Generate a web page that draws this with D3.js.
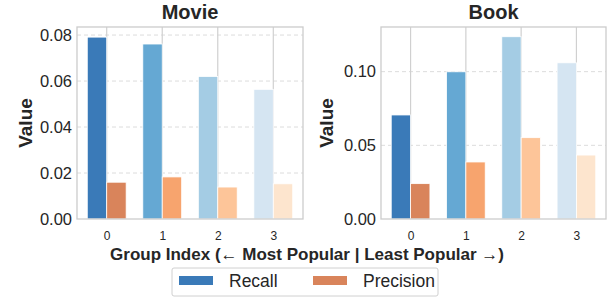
<!DOCTYPE html>
<html>
<head>
<meta charset="utf-8">
<script src="https://cdn.jsdelivr.net/npm/d3@7"></script>
<style>
  body { margin: 0; background: #fff; }
  svg { display: block; font-family: "Liberation Sans", Arial, sans-serif; }
</style>
</head>
<body>
<div id="chart"></div>
<script>
const groups = [0, 1, 2, 3];
const movieRecall = [0.0791, 0.0761, 0.0620, 0.0564];
const moviePrecision = [0.0160, 0.0183, 0.0139, 0.0153];
const bookRecall = [0.0706, 0.0999, 0.1237, 0.1060];
const bookPrecision = [0.0240, 0.0387, 0.0552, 0.0434];
const movieTicks = [0, 0.02, 0.04, 0.06, 0.08];
const bookTicks = [0, 0.05, 0.10];
const seriesNames = ["Recall", "Precision"];

const recallColors = ["#3a7ab8", "#65a8d3", "#a4cce4", "#d5e5f2"];
const precisionColors = ["#d9845b", "#f7a46e", "#fdc599", "#fde5ce"];

const width = 607, height = 297;
const barW = 0.35;
const textColor = "#262626";

const svg = d3.select("#chart").append("svg")
    .attr("width", width)
    .attr("height", height);

function panel(opts) {
  const x = d3.scaleLinear().domain([-0.535, 3.535]).range([opts.left, opts.right]);
  const y = d3.scaleLinear().domain([0, opts.ymax]).range([219, 27]);
  const g = svg.append("g");

  // horizontal dashed grid
  g.append("g").selectAll("line")
    .data(opts.ticks.filter(t => t > 0))
    .join("line")
      .attr("x1", opts.left).attr("x2", opts.right)
      .attr("y1", d => y(d)).attr("y2", d => y(d))
      .attr("stroke", "#dcdcdc")
      .attr("stroke-width", 1)
      .attr("stroke-dasharray", "4,3");

  // vertical solid grid
  g.append("g").selectAll("line")
    .data(groups)
    .join("line")
      .attr("x1", d => x(d)).attr("x2", d => x(d))
      .attr("y1", 27).attr("y2", 219)
      .attr("stroke", "#d0d0d0")
      .attr("stroke-width", 1.2);

  g.append("g").selectAll("rect")
    .data(groups)
    .join("rect")
      .attr("x", d => x(d - barW))
      .attr("width", x(barW) - x(0))
      .attr("y", (d, i) => y(opts.recall[i]))
      .attr("height", (d, i) => y(0) - y(opts.recall[i]))
      .attr("fill", (d, i) => recallColors[i])
      .attr("stroke", "#fff")
      .attr("stroke-width", 0.8);

  g.append("g").selectAll("rect")
    .data(groups)
    .join("rect")
      .attr("x", d => x(d))
      .attr("width", x(barW) - x(0))
      .attr("y", (d, i) => y(opts.precision[i]))
      .attr("height", (d, i) => y(0) - y(opts.precision[i]))
      .attr("fill", (d, i) => precisionColors[i])
      .attr("stroke", "#fff")
      .attr("stroke-width", 0.8);

  // frame
  g.append("rect")
    .attr("x", opts.left).attr("y", 27)
    .attr("width", opts.right - opts.left).attr("height", 192)
    .attr("fill", "none")
    .attr("stroke", "#cccccc")
    .attr("stroke-width", 1.3);

  g.append("g")
    .attr("transform", `translate(${opts.left},0)`)
    .call(d3.axisLeft(y).tickValues(opts.ticks).tickFormat(d3.format(".2f")).tickSize(0).tickPadding(5))
    .call(g => g.select(".domain").remove())
    .call(g => g.selectAll(".tick text")
      .attr("font-size", 16.5)
      .attr("fill", textColor)
      .attr("font-family", "Liberation Sans, Arial, sans-serif"));

  g.append("g")
    .attr("transform", "translate(0,219)")
    .call(d3.axisBottom(x).tickValues(groups).tickFormat(d3.format("d")).tickSize(0).tickPadding(12))
    .call(g => g.select(".domain").remove())
    .call(g => g.selectAll(".tick text")
      .attr("font-size", 12)
      .attr("fill", textColor)
      .attr("font-family", "Liberation Sans, Arial, sans-serif"));

  g.append("text")
    .attr("x", (opts.left + opts.right) / 2)
    .attr("y", 19)
    .attr("text-anchor", "middle")
    .attr("font-size", 20)
    .attr("font-weight", "bold")
    .attr("fill", textColor)
    .text(opts.title);

  g.append("text")
    .attr("transform", `translate(${opts.labelX},123) rotate(-90)`)
    .attr("text-anchor", "middle")
    .attr("font-size", 19)
    .attr("font-weight", "bold")
    .attr("fill", textColor)
    .text("Value");
}

panel({left: 77, right: 303, ymax: 0.0835, ticks: movieTicks,
  recall: movieRecall, precision: moviePrecision, title: "Movie", labelX: 32});
panel({left: 381, right: 606, ymax: 0.1303, ticks: bookTicks,
  recall: bookRecall, precision: bookPrecision, title: "Book", labelX: 333});

svg.append("text")
  .attr("x", 307)
  .attr("y", 260)
  .attr("text-anchor", "middle")
  .attr("font-size", 17)
  .attr("font-weight", "bold")
  .attr("fill", textColor)
  .text("Group Index (\u2190 Most Popular | Least Popular \u2192)");

// legend
const legend = svg.append("g");
legend.append("rect")
  .attr("x", 172).attr("y", 268)
  .attr("width", 266).attr("height", 28)
  .attr("rx", 2)
  .attr("fill", "#fff")
  .attr("stroke", "#d0d0d0");

const items = legend.selectAll("g.item")
  .data(seriesNames)
  .join("g")
    .attr("class", "item")
    .attr("transform", (d, i) => `translate(${i === 0 ? 179 : 313},0)`);

items.append("rect")
  .attr("y", 276).attr("width", 34).attr("height", 9)
  .attr("fill", (d, i) => i === 0 ? recallColors[0] : precisionColors[0]);

items.append("text")
  .attr("x", 50)
  .attr("y", 287)
  .attr("font-size", 17.5)
  .attr("fill", textColor)
  .text(d => d);
</script>
</body>
</html>
